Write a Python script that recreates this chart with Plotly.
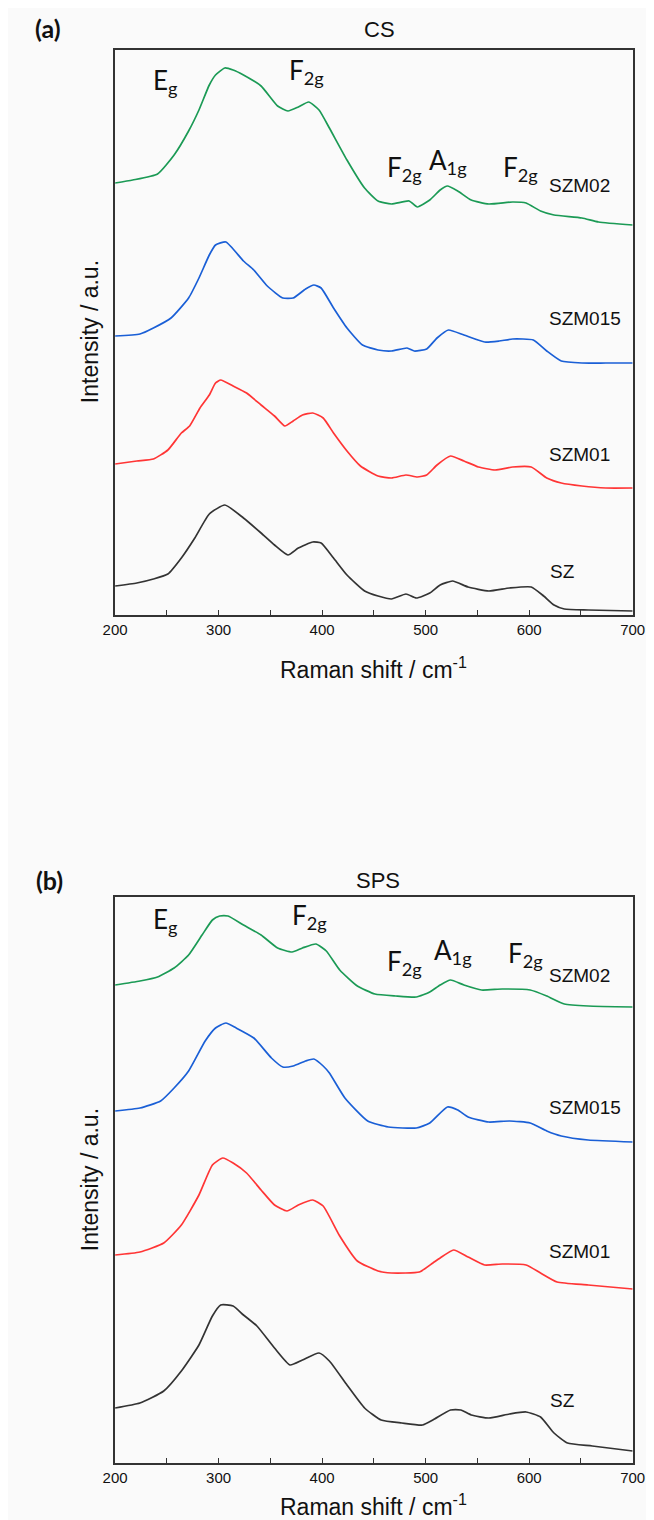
import plotly.graph_objects as go

# ---------------- Panel (a) CS ----------------
a_szm02_x = [200, 217, 241, 257, 271, 281, 291, 297, 306, 314, 324, 341, 357, 367, 377, 387, 397, 407, 424, 441,
             454, 467, 484, 492, 504, 514, 521, 531, 544, 561, 584, 597, 611, 624, 651, 667, 700]
a_szm02_y = [432, 435, 441, 460, 484, 505, 530, 540, 547, 545, 540, 529, 509, 504, 508, 513, 505, 487, 455, 427,
             414, 411, 414, 408, 415, 425, 429, 424, 415, 411, 413, 412, 404, 400, 397, 393, 390]

a_szm015_x = [200, 224, 237, 254, 271, 281, 291, 297, 307, 324, 334, 347, 362, 372, 384, 392, 399, 411, 424, 439,
              454, 467, 482, 489, 501, 511, 522, 537, 557, 571, 584, 604, 617, 631, 651, 674, 700]
a_szm015_y = [279, 281, 287, 297, 317, 337, 360, 370, 373, 354, 345, 329, 317, 317, 326, 330, 327, 307, 287, 270,
              265, 264, 267, 264, 266, 277, 285, 280, 273, 274, 276, 275, 264, 254, 252, 252, 252]

a_szm01_x = [200, 221, 237, 251, 264, 272, 282, 291, 297, 302, 314, 327, 341, 354, 364, 372, 381, 391, 401, 411,
             424, 437, 454, 467, 481, 492, 501, 511, 524, 537, 551, 567, 584, 602, 617, 631, 651, 674, 700]
a_szm01_y = [151, 154, 156, 165, 182, 189, 207, 220, 232, 235, 229, 222, 210, 199, 189, 194, 200, 202, 197, 182,
             164, 149, 139, 137, 140, 138, 140, 150, 159, 154, 148, 145, 148, 148, 137, 132, 129, 127, 127]

a_sz_x = [200, 221, 237, 251, 264, 277, 291, 306, 324, 341, 354, 367, 377, 391, 399, 411, 424, 441, 454, 467,
          481, 491, 504, 514, 526, 541, 561, 581, 602, 614, 624, 634, 657, 700]
a_sz_y = [29, 32, 36, 41, 57, 77, 101, 110, 97, 82, 70, 60, 67, 73, 72, 57, 40, 24, 19, 16,
          21, 17, 22, 30, 34, 28, 24, 27, 28, 19, 10, 6, 5, 4]

# ---------------- Panel (b) SPS ----------------
b_szm02_x = [200, 224, 241, 257, 271, 284, 294, 301, 309, 324, 341, 357, 371, 381, 394, 404, 417, 434, 451, 471,
             491, 504, 514, 524, 537, 554, 574, 601, 617, 634, 657, 700]
b_szm02_y = [478, 482, 486, 495, 508, 528, 543, 547, 547, 538, 528, 515, 511, 515, 519, 512, 493, 477, 469, 467,
             466, 471, 478, 483, 478, 473, 474, 473, 467, 459, 457, 456]

b_szm015_x = [200, 224, 244, 257, 271, 287, 297, 307, 317, 334, 351, 362, 372, 384, 392, 401, 407, 422, 444, 464,
              491, 504, 521, 531, 541, 561, 581, 601, 617, 631, 657, 700]
b_szm015_y = [352, 355, 362, 375, 392, 422, 435, 440, 435, 425, 405, 396, 397, 402, 404, 397, 390, 365, 342, 336,
              335, 340, 356, 353, 346, 341, 342, 340, 332, 327, 323, 321]

b_szm01_x = [200, 224, 247, 264, 281, 294, 304, 314, 327, 341, 354, 366, 377, 391, 401, 417, 434, 454, 467, 494,
             507, 514, 527, 541, 557, 574, 597, 611, 627, 657, 700]
b_szm01_y = [208, 211, 220, 238, 268, 298, 305, 300, 290, 273, 258, 252, 258, 263, 257, 227, 202, 192, 190, 191,
             200, 205, 213, 206, 198, 199, 198, 190, 181, 178, 174]

b_sz_x = [200, 224, 247, 264, 281, 294, 302, 314, 324, 337, 354, 369, 381, 397, 407, 424, 441, 457, 477, 497,
          507, 524, 534, 544, 561, 581, 597, 611, 624, 637, 661, 700]
b_sz_y = [55, 60, 72, 92, 118, 147, 158, 157, 148, 137, 115, 98, 103, 110, 102, 78, 55, 43, 40, 38,
          43, 53, 53, 48, 45, 49, 51, 46, 30, 20, 17, 12]

sample_names = ["SZM02", "SZM015", "SZM01", "SZ"]
colors = ["#1b9a55", "#1a5fd6", "#ff3535", "#333333"]
x_ticks = [200, 300, 400, 500, 600, 700]

panel_a = [(a_szm02_x, a_szm02_y), (a_szm015_x, a_szm015_y), (a_szm01_x, a_szm01_y), (a_sz_x, a_sz_y)]
panel_b = [(b_szm02_x, b_szm02_y), (b_szm015_x, b_szm015_y), (b_szm01_x, b_szm01_y), (b_sz_x, b_sz_y)]

W, H = 654, 1520
fig = go.Figure()

line_style = dict(width=1.7, shape="spline", smoothing=0.5)
for (xs, ys), name, col in zip(panel_a, sample_names, colors):
    fig.add_trace(go.Scatter(x=xs, y=ys, mode="lines", name=name, line=dict(color=col, **line_style),
                             xaxis="x", yaxis="y", showlegend=False))
for (xs, ys), name, col in zip(panel_b, sample_names, colors):
    fig.add_trace(go.Scatter(x=xs, y=ys, mode="lines", name=name, line=dict(color=col, **line_style),
                             xaxis="x2", yaxis="y2", showlegend=False))

xdom = [98 / W, 637 / W]
ydom_a = [1 - 607 / H, 1 - 42 / H]
ydom_b = [1 - 1455 / H, 1 - 889 / H]

xaxis_common = dict(range=[200, 700], tickvals=x_ticks, ticks="inside", ticklen=5, tickwidth=1.2,
                    tickcolor="#333", showline=True, linecolor="#333", linewidth=1.5, mirror=True,
                    showgrid=False, zeroline=False,
                    tickfont=dict(family="Liberation Sans, Arial", size=15, color="#111"),
                    minor=dict(dtick=50, tick0=200, ticks="inside", ticklen=5, tickcolor="#333", showgrid=False))
yaxis_common = dict(showline=True, linecolor="#333", linewidth=1.5, mirror=True, showgrid=False,
                    zeroline=False, showticklabels=False, ticks="")

fig.update_layout(
    width=W, height=H,
    margin=dict(l=0, r=0, t=0, b=0),
    paper_bgcolor="#fafafa", plot_bgcolor="#fafafa",
    xaxis=dict(domain=xdom, anchor="y", **xaxis_common),
    yaxis=dict(domain=ydom_a, anchor="x", range=[0, 565], **yaxis_common),
    xaxis2=dict(domain=xdom, anchor="y2", **xaxis_common),
    yaxis2=dict(domain=ydom_b, anchor="x2", range=[0, 566], **yaxis_common),
)

mode_font = dict(family="Lato, Noto Sans", size=26, color="#111")
sample_font = dict(family="Liberation Sans, Arial", size=19, color="#111")
title_font = dict(family="Liberation Sans, Arial", size=22, color="#111")
axis_title_font = dict(family="Liberation Sans, Arial", size=23, color="#111")

ann = []
# mode labels, centred: (text, x centre in cm-1, y in a.u.)
modes_a = [("E<sub>g</sub>", 249, 534), ("F<sub>2g</sub>", 385, 544), ("F<sub>2g</sub>", 480, 447),
           ("A<sub>1g</sub>", 522, 454), ("F<sub>2g</sub>", 592, 447)]
modes_b = [("E<sub>g</sub>", 249, 543), ("F<sub>2g</sub>", 388, 547), ("F<sub>2g</sub>", 480, 501),
           ("A<sub>1g</sub>", 526, 512), ("F<sub>2g</sub>", 596, 509)]
for t, x, y in modes_a:
    ann.append(dict(text=t, x=x, y=y, xref="x", yref="y", xanchor="center", yanchor="middle",
                    showarrow=False, font=mode_font))
for t, x, y in modes_b:
    ann.append(dict(text=t, x=x, y=y, xref="x2", yref="y2", xanchor="center", yanchor="middle",
                    showarrow=False, font=mode_font))

labels_a = [("SZM02", 617.4, 430), ("SZM015", 617.4, 297), ("SZM01", 617.4, 161), ("SZ", 618.4, 44)]
labels_b = [("SZM02", 617.4, 488), ("SZM015", 617.4, 356), ("SZM01", 617.4, 212), ("SZ", 618.4, 63)]
for t, x, y in labels_a:
    ann.append(dict(text=t, x=x, y=y, xref="x", yref="y", xanchor="left", yanchor="middle",
                    showarrow=False, font=sample_font))
for t, x, y in labels_b:
    ann.append(dict(text=t, x=x, y=y, xref="x2", yref="y2", xanchor="left", yanchor="middle",
                    showarrow=False, font=sample_font))


def py(pix):
    return 1 - pix / H


def px(pix):
    return pix / W


def paper_text(text, x, y, font, angle=0):
    return dict(text=text, x=px(x), y=py(y), xref="paper", yref="paper", xanchor="center",
                yanchor="middle", textangle=angle, showarrow=False, font=font)


ann += [
    paper_text("CS", 373, 22, title_font),
    paper_text("SPS", 372, 872, title_font),
    paper_text("<b>(a)</b>", 28, 20, dict(family="Lato, Noto Sans", size=25, color="#111")),
    paper_text("<b>(b)</b>", 30, 872, dict(family="Lato, Noto Sans", size=25, color="#111")),
    paper_text("Raman shift / cm<sup>-1</sup>", 367, 660, axis_title_font),
    paper_text("Raman shift / cm<sup>-1</sup>", 367, 1497, axis_title_font),
    paper_text("Intensity / a.u.", 72, 324, axis_title_font, -90),
    paper_text("Intensity / a.u.", 72, 1172, axis_title_font, -90),
]
fig.update_layout(annotations=ann)

fig.write_html("out.html")
